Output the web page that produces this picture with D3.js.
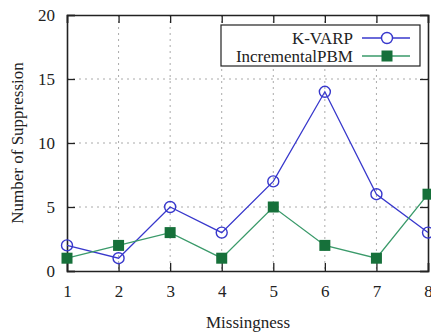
<!DOCTYPE html>
<html><head><meta charset="utf-8">
<script src="https://cdn.jsdelivr.net/npm/d3@7"></script>
<style>body{margin:0;background:#fff}svg{display:block}</style>
</head><body><svg id="c" width="431" height="332"></svg>
<script>
const categories = [1,2,3,4,5,6,7,8];
const kvarp = [2,1,5,3,7,14,6,3];
const incPBM = [1,2,3,1,5,2,1,6];
const yTicks = [0,5,10,15,20];
const seriesNames = ["K-VARP","IncrementalPBM"];

const FONT = "Liberation Serif";
const svg = d3.select("#c").style("font-family",FONT);
const L=67, R=428, T=15, B=271;
const x = d3.scaleLinear().domain([1,8]).range([L,R]);
const y = d3.scaleLinear().domain([0,20]).range([B,T]);

// grid
const g = svg.append("g");
g.selectAll(".gx").data(categories.slice(1,-1)).enter().append("line")
 .attr("x1",d=>x(d)).attr("x2",d=>x(d)).attr("y1",T).attr("y2",B)
 .attr("stroke","#aaa").attr("stroke-width",1).attr("stroke-dasharray","2,4");
g.selectAll(".gy").data(yTicks.slice(1,-1)).enter().append("line")
 .attr("x1",L).attr("x2",R).attr("y1",d=>y(d)).attr("y2",d=>y(d))
 .attr("stroke","#aaa").attr("stroke-width",1).attr("stroke-dasharray","2,4");

// axes
const xa = svg.append("g").attr("transform",`translate(0,${B})`)
 .call(d3.axisBottom(x).tickValues(categories).tickFormat(d3.format("d")).tickSize(-8).tickPadding(14));
const ya = svg.append("g").attr("transform",`translate(${L},0)`)
 .call(d3.axisLeft(y).tickValues(yTicks).tickSize(-8).tickPadding(12));
const xt = svg.append("g").attr("transform",`translate(0,${T})`)
 .call(d3.axisTop(x).tickValues(categories).tickFormat("").tickSize(-8));
const yr = svg.append("g").attr("transform",`translate(${R},0)`)
 .call(d3.axisRight(y).tickValues(yTicks).tickFormat("").tickSize(-8));
[xa,ya,xt,yr].forEach(a=>{
  a.attr("font-family",null).attr("font-size",null);
  a.selectAll("path").attr("stroke","#222").attr("stroke-width",1.6);
  a.selectAll("line").attr("stroke","#222").attr("stroke-width",1.3);
  a.selectAll("text").attr("fill","#222").style("font-family",FONT).style("font-size","17px");
});

// lines
const blue="#3838cc", green="#3a9a6a", greenFill="#16703a";
const line = d3.line().x((d,i)=>x(categories[i])).y(d=>y(d));
const plot = svg.append("g");
plot.append("path").datum(kvarp).attr("d",line).attr("fill","none").attr("stroke",blue).attr("stroke-width",1.3);
plot.append("path").datum(incPBM).attr("d",line).attr("fill","none").attr("stroke",green).attr("stroke-width",1.3);
plot.selectAll(".sq").data(incPBM).enter().append("rect")
 .attr("x",(d,i)=>x(categories[i])-5.5).attr("y",d=>y(d)-5.5).attr("width",11).attr("height",11)
 .attr("fill",greenFill);
plot.selectAll(".ci").data(kvarp).enter().append("circle")
 .attr("cx",(d,i)=>x(categories[i])).attr("cy",d=>y(d)).attr("r",5.5)
 .attr("fill","none").attr("stroke",blue).attr("stroke-width",1.4);

// legend
const lg = svg.append("g");
lg.append("rect").attr("x",221).attr("y",25).attr("width",199).attr("height",41)
 .attr("fill","#fff").attr("stroke","#222").attr("stroke-width",1.2);
const ly=[38,56];
lg.selectAll(".lt").data(seriesNames).enter().append("text")
 .attr("x",353).attr("y",(d,i)=>ly[i]+5.5).attr("text-anchor","end").attr("fill","#222")
 .style("font-family",FONT).style("font-size","17px").text(d=>d);
lg.append("line").attr("x1",362).attr("x2",410).attr("y1",ly[0]).attr("y2",ly[0]).attr("stroke",blue).attr("stroke-width",1.3);
lg.append("circle").attr("cx",387).attr("cy",ly[0]).attr("r",5.5).attr("fill","#fff").attr("stroke",blue).attr("stroke-width",1.4);
lg.append("line").attr("x1",362).attr("x2",410).attr("y1",ly[1]).attr("y2",ly[1]).attr("stroke",green).attr("stroke-width",1.3);
lg.append("rect").attr("x",381.5).attr("y",ly[1]-5.5).attr("width",11).attr("height",11).attr("fill",greenFill);

// titles
svg.append("text").attr("x",248).attr("y",328).attr("text-anchor","middle").attr("fill","#222").style("font-family",FONT).style("font-size","17px").text("Missingness");
svg.append("text").attr("transform","translate(23,143) rotate(-90)").attr("text-anchor","middle").attr("fill","#222").style("font-family",FONT).style("font-size","17px").text("Number of Suppression");
</script></body></html>
